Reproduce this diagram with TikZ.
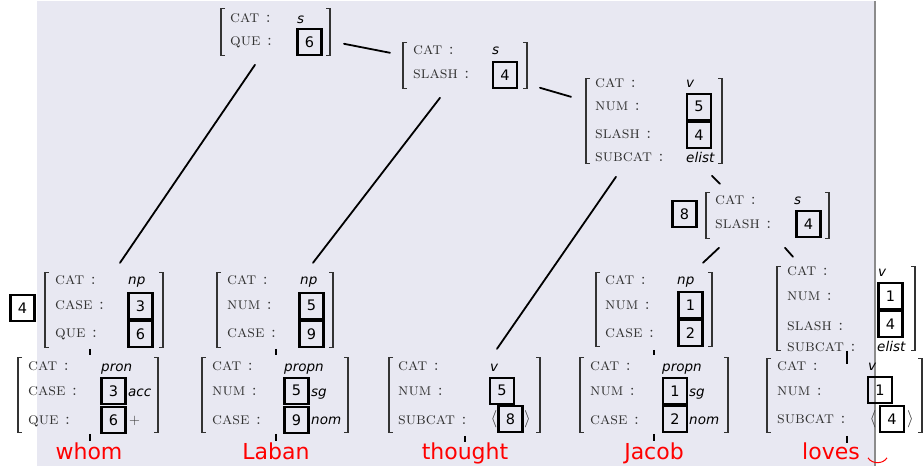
\documentclass[tikz,border=0pt]{standalone}
\usepackage{fontspec}
\newfontfamily\dvs{DejaVu Sans}
\definecolor{pagebg}{HTML}{E8E8F2}
\definecolor{ink}{HTML}{333333}
\definecolor{rule}{HTML}{8C8C8C}

% one attribute-value matrix: name, left x, right x, top y, bottom y
\newcommand{\avmbrk}[5]{%
  \node[avmbody, minimum width={#3-#2}, minimum height={#5-#4}] (#1) at ({(#2+#3)/2},{(#4+#5)/2}) {};
  \draw[brk] (#2+4,#4) -- (#2,#4) -- (#2,#5) -- (#2+4,#5);
  \draw[brk] (#3-4,#4) -- (#3,#4) -- (#3,#5) -- (#3-4,#5);
}
% a boxed tag: name, centre x, centre y, number
\newcommand{\tagbox}[4]{\node[idx] (#1) at (#2,#3) {#4};}

\tikzset{
  avmbody/.style={inner sep=0pt, outer sep=0pt},
  brk/.style={draw=ink, line width=1.2pt},
  lab/.style={anchor=base west, yshift=-3.6pt, inner sep=0pt, text=ink,
              font=\fontsize{16.8}{17}\selectfont\scshape},
  val/.style={anchor=base west, yshift=-3.7pt, inner sep=0pt,
              font=\dvs\itshape\fontsize{13.5}{14}\selectfont},
  idx/.style={draw, line width=2.3pt, minimum width=24pt, minimum height=26pt,
              inner sep=0pt, font=\dvs\fontsize{14.5}{15}\selectfont},
  ang/.style={inner sep=0pt, text=ink, font=\fontsize{17}{17}\selectfont},
  plus/.style={anchor=west, inner sep=0pt, text=ink, font=\fontsize{15}{15}\selectfont},
  edge/.style={line width=1.8pt, line cap=round},
  tick/.style={line width=1.8pt},
  word/.style={anchor=base, inner sep=0pt, text=red, font=\dvs\fontsize{22}{22}\selectfont},
}

\begin{document}
\begin{tikzpicture}[x=1pt, y=-1pt]
% page, panel and its right border
\fill[white] (0,0) rectangle (924,465);
\fill[pagebg] (37,0) rectangle (875,465);
\draw[rule, line width=1.6pt] (875,0) -- (875,465);
\useasboundingbox (0,0) rectangle (924,465);

% ---------- S [que] ----------
\avmbrk{A}{221}{330}{8}{55}
\node[lab] at (230,18.5) {cat :};
\node[lab] at (230,41) {que :};
\node[val] at (297,18.5) {s};
\tagbox{A6}{309.5}{41}{6}

% ---------- S [slash] ----------
\avmbrk{B}{403}{527}{42}{88}
\node[lab] at (413,50) {cat :};
\node[lab] at (413,74) {slash :};
\node[val] at (492,50) {s};
\tagbox{B4}{505}{74}{4}

% ---------- VP ----------
\avmbrk{C}{586}{722}{78}{163}
\node[lab] at (595,83) {cat :};
\node[lab] at (595,106) {num :};
\node[lab] at (595,134) {slash :};
\node[lab] at (595,157.5) {subcat :};
\node[val] at (686,83) {v};
\tagbox{C5}{699}{106}{5}
\tagbox{C4}{699}{134.5}{4}
\node[val] at (686,157.5) {elist};

% ---------- tagged S [slash] ----------
\tagbox{D8}{684.5}{213.5}{8}
\avmbrk{D}{706}{829}{192}{238}
\node[lab] at (715,200) {cat :};
\node[lab] at (715,224) {slash :};
\node[val] at (794,200) {s};
\tagbox{D4}{808.5}{223.5}{4}

% ---------- NP over "whom" ----------
\tagbox{N1t}{22.5}{307}{4}
\avmbrk{N1}{45}{163}{272}{347}
\node[lab] at (55,280) {cat :};
\node[lab] at (55,305) {case :};
\node[lab] at (55,333) {que :};
\node[val] at (128,280) {np};
\tagbox{N1a}{140.5}{305}{3}
\tagbox{N1b}{140.5}{333}{6}

% ---------- NP over "Laban" ----------
\avmbrk{N2}{217}{333}{272}{347}
\node[lab] at (227,280) {cat :};
\node[lab] at (227,305) {num :};
\node[lab] at (227,333) {case :};
\node[val] at (300,280) {np};
\tagbox{N2a}{311.5}{305}{5}
\tagbox{N2b}{311.5}{333}{9}

% ---------- NP over "Jacob" ----------
\avmbrk{E}{596}{712}{272}{346}
\node[lab] at (605,280) {cat :};
\node[lab] at (605,305) {num :};
\node[lab] at (605,333) {case :};
\node[val] at (677,280) {np};
\tagbox{Ea}{690.5}{304}{1}
\tagbox{Eb}{690.5}{332}{2}

% ---------- V [slash] over "loves" ----------
\avmbrk{F}{777}{915}{266}{350}
\node[lab] at (787,271.5) {cat :};
\node[lab] at (787,296) {num :};
\node[lab] at (787,326) {slash :};
\node[lab] at (787,347) {subcat :};
\node[val] at (878,271.5) {v};
\tagbox{Fa}{890.5}{295}{1}
\tagbox{Fb}{890.5}{323.5}{4}
\node[val] at (877,347) {elist};

% ---------- lexical entries ----------
\avmbrk{L1}{18}{158}{357}{432}
\node[lab] at (28,366.5) {cat :};
\node[lab] at (28,391.5) {case :};
\node[lab] at (28,420) {que :};
\node[val] at (101,366.5) {pron};
\tagbox{L1a}{113.5}{390}{3}
\tagbox{L1b}{113.5}{419}{6}
\node[val] at (128,391.5) {acc};
\node[plus] at (129,420) {$+$};

\avmbrk{L2}{202}{348}{357}{432}
\node[lab] at (212,366.5) {cat :};
\node[lab] at (212,391.5) {num :};
\node[lab] at (212,420) {case :};
\node[val] at (284,366.5) {propn};
\tagbox{L2a}{296.5}{390}{5}
\tagbox{L2b}{296.5}{419}{9}
\node[val] at (311,391.5) {sg};
\node[val] at (311,420) {nom};

\avmbrk{L3}{389}{540}{357}{432}
\node[lab] at (398,366.5) {cat :};
\node[lab] at (398,391.5) {num :};
\node[lab] at (398,420) {subcat :};
\node[val] at (490,366.5) {v};
\tagbox{L3a}{502}{390}{5}
\node[ang] at (494,418.5) {$\langle$};
\tagbox{L3b}{510.5}{418.5}{8}
\node[ang] at (527.5,418.5) {$\rangle$};

\avmbrk{L4}{580}{728}{357}{432}
\node[lab] at (590,366.5) {cat :};
\node[lab] at (590,391.5) {num :};
\node[lab] at (590,420) {case :};
\node[val] at (662,366.5) {propn};
\tagbox{L4a}{675}{390}{1}
\tagbox{L4b}{675}{418.5}{2}
\node[val] at (689,391.5) {sg};
\node[val] at (689,420) {nom};

\avmbrk{L5}{767}{922}{358}{432}
\node[lab] at (777,366) {cat :};
\node[lab] at (777,391) {num :};
\node[lab] at (777,419.5) {subcat :};
\node[val] at (868,366) {v};
\tagbox{L5a}{880}{389}{1}
\node[ang] at (873,418) {$\langle$};
\tagbox{L5b}{892}{418}{4}
\node[ang] at (910.5,418) {$\rangle$};

% ---------- words ----------
\node[word] (w1) at (89,459) {whom};
\node[word] (w2) at (276,459) {Laban};
\node[word] (w3) at (465,459) {thought};
\node[word] (w4) at (654,459) {Jacob};
\node[word] (w5) at (831,459) {loves};
\draw[red, line width=1pt] (868,457) .. controls (872,463.5) and (883,463.5) .. (887,457);

% ---------- branch end points ----------
\coordinate (A-l) at (255,64);   \coordinate (N1-t) at (120,262);
\coordinate (A-r) at (344,43);   \coordinate (B-l) at (390,52);
\coordinate (B-d) at (440,97);   \coordinate (N2-t) at (313,262);
\coordinate (B-r) at (540,87);   \coordinate (C-l) at (571,96);
\coordinate (C-d) at (616,176);  \coordinate (L3-t) at (497,348);
\coordinate (C-r) at (712,175);  \coordinate (D-t) at (720,183);
\coordinate (D-l) at (719,247);  \coordinate (E-t) at (703,262);
\coordinate (D-r) at (785,247);  \coordinate (F-t) at (793,256);

\draw[edge] (A-l) -- (N1-t);
\draw[edge] (A-r) -- (B-l);
\draw[edge] (B-d) -- (N2-t);
\draw[edge] (B-r) -- (C-l);
\draw[edge] (C-d) -- (L3-t);
\draw[edge] (C-r) -- (D-t);
\draw[edge] (D-l) -- (E-t);
\draw[edge] (D-r) -- (F-t);

% short unary branches
\coordinate (N1-b) at (90,348);  \coordinate (L1-t) at (90,354);
\coordinate (L1-b) at (90,433);  \coordinate (w1-t) at (90,440);
\coordinate (N2-b) at (276,348); \coordinate (L2-t) at (276,354);
\coordinate (L2-b) at (276,433); \coordinate (w2-t) at (276,440);
\coordinate (L3-b) at (465,435); \coordinate (w3-t) at (465,441);
\coordinate (E-b) at (654,349);  \coordinate (L4-t) at (654,354);
\coordinate (L4-b) at (654,433); \coordinate (w4-t) at (654,440);
\coordinate (F-b) at (847,350);  \coordinate (L5-t) at (847,363);
\coordinate (L5-b) at (847,435); \coordinate (w5-t) at (847,442);

\draw[tick] (N1-b) -- (L1-t);
\draw[tick] (L1-b) -- (w1-t);
\draw[tick] (N2-b) -- (L2-t);
\draw[tick] (L2-b) -- (w2-t);
\draw[tick] (L3-b) -- (w3-t);
\draw[tick] (E-b) -- (L4-t);
\draw[tick] (L4-b) -- (w4-t);
\draw[tick] (F-b) -- (L5-t);
\draw[tick] (L5-b) -- (w5-t);
\end{tikzpicture}
\end{document}
